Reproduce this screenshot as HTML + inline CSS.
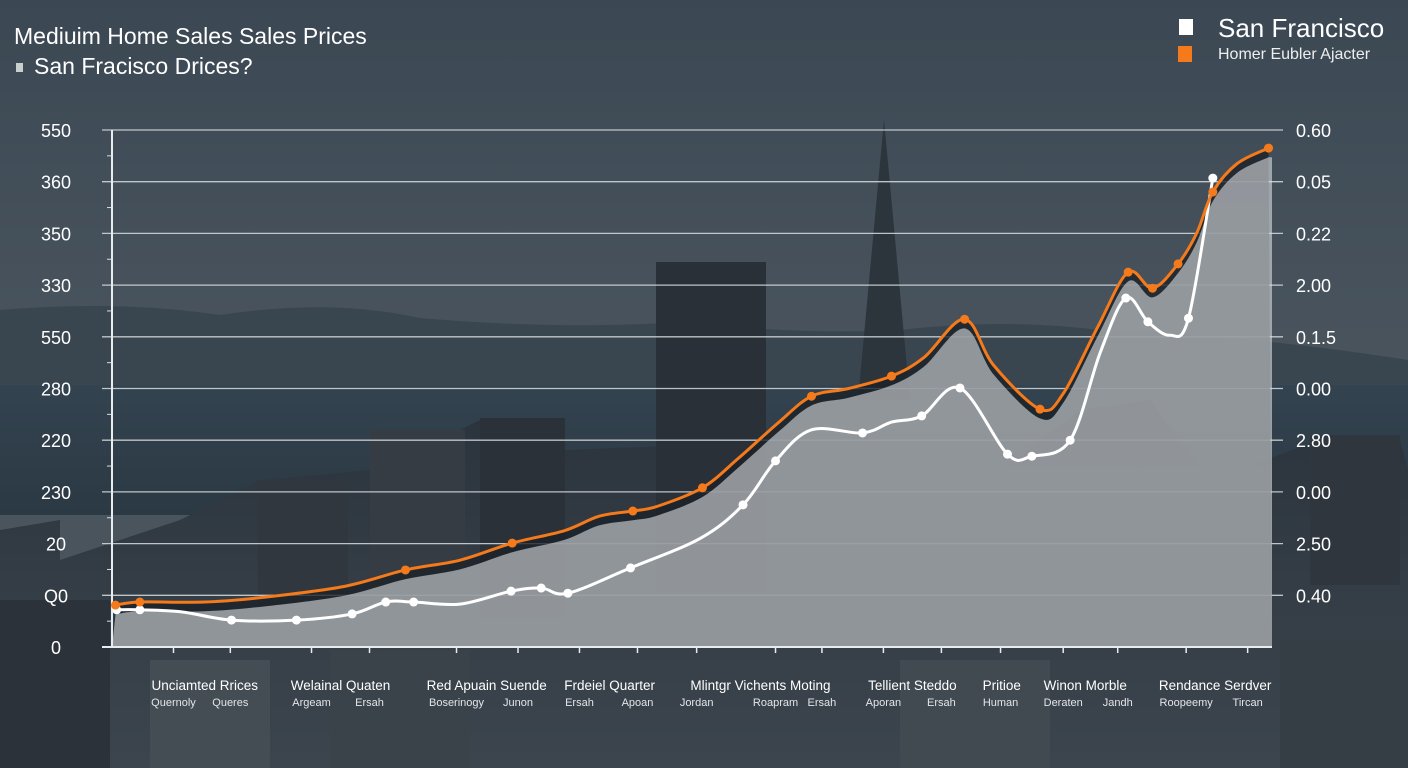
<!DOCTYPE html>
<html><head><meta charset="utf-8">
<style>
html,body{margin:0;padding:0;}
body{width:1408px;height:768px;overflow:hidden;background:#3f4a54;font-family:"Liberation Sans",sans-serif;}
svg{display:block;}
</style></head>
<body>
<svg id="chart" width="1408" height="768" viewBox="0 0 1408 768" xmlns="http://www.w3.org/2000/svg">
<defs>
<linearGradient id="sky" x1="0" y1="0" x2="0" y2="1">
<stop offset="0" stop-color="#3b4853"/><stop offset="0.4" stop-color="#47525c"/><stop offset="0.5" stop-color="#4a545d"/>
</linearGradient>
<linearGradient id="water" x1="0" y1="0" x2="0" y2="1">
<stop offset="0" stop-color="#33434f"/><stop offset="1" stop-color="#2b3944"/>
</linearGradient>
<linearGradient id="city" x1="0" y1="0" x2="0" y2="1">
<stop offset="0" stop-color="#2a333b"/><stop offset="0.5" stop-color="#343d46"/><stop offset="1" stop-color="#3c454e"/>
</linearGradient>
</defs>
<g>
<rect width="1408" height="768" fill="url(#sky)"/>
<path d="M0 310 Q120 300 220 315 Q330 298 420 318 Q560 330 680 322 Q800 335 900 330 Q1000 318 1100 330 Q1250 335 1408 360 L1408 400 L0 400Z" fill="#3a464f"/>
<rect x="0" y="385" width="1408" height="130" fill="url(#water)"/>
<path d="M0 530 L60 520 L60 560 L180 520 L260 480 L370 470 L370 430 L460 430 L480 420 L565 420 L565 450 L690 445 L690 480 L760 470 L840 470 L900 480 L1000 470 L1080 410 L1150 400 L1210 480 L1320 440 L1400 440 L1408 470 L1408 768 L0 768Z" fill="url(#city)"/>
<rect x="656" y="262" width="110" height="330" fill="#2a3037"/>
<polygon points="884,120 858,400 910,400" fill="#2c343c"/>
<rect x="480" y="418" width="85" height="200" fill="#2a3139"/>
<rect x="370" y="430" width="95" height="180" fill="#353c44"/>
<rect x="258" y="480" width="90" height="140" fill="#30373f"/>
<rect x="1310" y="435" width="90" height="150" fill="#2f363e"/>
<rect x="0" y="600" width="110" height="168" fill="#2b3239"/>
<rect x="150" y="660" width="120" height="108" fill="#444c54"/>
<rect x="330" y="650" width="140" height="118" fill="#3a424a"/>
<rect x="900" y="660" width="150" height="108" fill="#414951"/>
<rect x="1280" y="640" width="128" height="128" fill="#353d45"/>
</g>
<g id="plot"></g>
<g fill="#fff">
<text x="14" y="44" font-size="23">Mediuim Home Sales Sales Prices</text>
<rect x="16" y="63" width="7" height="9" fill="#c8d0cc"/>
<text x="34" y="74" font-size="23">San Fracisco Drices?</text>
</g>
<g>
<rect x="1179" y="19" width="14" height="16" fill="#fff"/>
<text x="1218" y="37" font-size="26" fill="#fff">San Francisco</text>
<rect x="1178" y="46" width="14" height="16" fill="#f47a1b"/>
<text x="1218" y="59" font-size="16" fill="#eee">Homer Eubler Ajacter</text>
</g>
</svg>
<script>
const leftTicks=["550","360","350","330","550","280","220","230","20","Q0","0"];
const rightTicks=["0.60","0.05","0.22","2.00","0.1.5","0.00","2.80","0.00","2.50","0.40"];
const xTop=["Unciamted Rrices","Welainal Quaten","Red Apuain Suende","Frdeiel Quarter","Mlintgr Vichents Moting","Tellient Steddo","Pritioe","Winon Morble","Rendance Serdver"];
const xTopT=[8,19.7,32.3,42.9,55.9,69,76.7,83.9,95.1];
const xBot=["Quernoly","Queres","Argeam","Ersah","Boserinogy","Junon","Ersah","Apoan","Jordan","Roapram","Ersah","Aporan","Ersah","Human","Deraten","Jandh","Roopeemy","Tircan"];
const xBotT=[5.3,10.2,17.2,22.2,29.7,35,40.3,45.3,50.4,57.2,61.2,66.5,71.5,76.6,82,86.7,92.6,97.9];
const orangeT=[0.3,2.4,8,13,20,25.3,30,34.5,39,42,44.9,47,50.9,54,57.5,60.3,63.5,67.2,70,73.5,76,80,82,85,87.6,89.7,91.9,93.5,94.9,97,99.7];
const orangeV=[8.1,8.7,8.7,9.6,11.7,14.9,16.8,20.1,22.5,25.3,26.3,27.2,30.8,36.5,43.5,48.5,50,52.4,56,63.4,54.5,46,49,62,72.5,69.4,74.1,80,88,93.5,96.5];
const orangeMarks=[0,1,5,7,10,12,15,17,19,21,24,25,26,28,30];
const whiteT=[0.4,2.4,6,10.3,15.9,20.7,23.6,26,30,34.4,37,39.3,44.7,50.7,54.4,57.2,60.3,64.7,67.2,69.8,73.1,77.2,79.3,82.6,85.2,87.4,89.3,91.2,92.8,94.9];
const whiteV=[7.2,7.2,6.8,5.2,5.2,6.4,8.7,8.7,8.3,10.8,11.4,10.4,15.3,21,27.5,36,42,41.4,43.5,44.7,50.1,37.3,36.9,40,57,67.5,62.9,60.3,63.6,90.7];
const whiteMarks=[0,1,3,4,5,6,7,9,10,11,12,14,15,17,19,20,21,22,23,25,26,28,29];

const X0=112,X1=1272,Y0=647,Y1=130;
const xs=t=>X0+(X1-X0)*t/100;
const ys=v=>Y0-(Y0-Y1)*v/100;
const NS="http://www.w3.org/2000/svg";
const plot=document.getElementById('plot');
function mk(tag,attrs,parent){const e=document.createElementNS(NS,tag);for(const k in attrs)e.setAttribute(k,attrs[k]);(parent||plot).appendChild(e);return e;}
function smooth(pts){let d=`M${pts[0][0]} ${pts[0][1]}`;for(let i=0;i<pts.length-1;i++){const p0=pts[i-1]||pts[i],p1=pts[i],p2=pts[i+1],p3=pts[i+2]||p2;
d+=` C${p1[0]+(p2[0]-p0[0])/6} ${p1[1]+(p2[1]-p0[1])/6} ${p2[0]-(p3[0]-p1[0])/6} ${p2[1]-(p3[1]-p1[1])/6} ${p2[0]} ${p2[1]}`;}return d;}

const step=(Y0-Y1)/10;
for(let i=0;i<11;i++){const y=Y1+i*step;
 if(i<10){const g=mk('line',{x1:X0-10,x2:X1+11,y1:y,y2:y,stroke:'#d8dde0','stroke-width':1.3,opacity:0.85});
 
 
 const m=mk('line',{x1:X0-5,x2:X0,y1:y+step/2,y2:y+step/2,stroke:'#d8dde0','stroke-width':1});
 
 }
 const t=mk('text',{x:56,y:y+7,'font-size':18,fill:'#fff','text-anchor':'middle'});t.textContent=leftTicks[i];
 
 
 if(i<10){const r=mk('text',{x:1296,y:y+7,'font-size':18,fill:'#fff'});r.textContent=rightTicks[i];
 
 }
}
const opts=orangeT.map((t,i)=>[xs(t),ys(orangeV[i])]);
const apts=orangeT.map((t,i)=>[xs(t),ys(orangeV[i]-1.2)+3]);
const shadow=mk('path',{d:smooth(opts)+` L${X1} ${Y0} L${X0} ${Y0}Z`,fill:'#1c2228',opacity:0.8});


const area=mk('path',{d:smooth(apts)+` L${X1} ${apts[apts.length-1][1]} L${X1} ${Y0} L${X0} ${Y0}Z`,fill:'#dcdfe2',opacity:0.6});


const ax=mk('line',{x1:X0,x2:X0,y1:Y1,y2:Y0,stroke:'#e8ecee','stroke-width':2});


const bx=mk('line',{x1:X0-10,x2:X1,y1:Y0,y2:Y0,stroke:'#e8ecee','stroke-width':2});


for(let i=0;i<xBotT.length;i++){const tk=mk('line',{x1:xs(xBotT[i]),x2:xs(xBotT[i]),y1:Y0,y2:Y0+6,stroke:'#e8ecee','stroke-width':1.5});
 
 }
const wpts=whiteT.map((t,i)=>[xs(t),ys(whiteV[i])]);
const wl=mk('path',{d:smooth(wpts),fill:'none',stroke:'#fff','stroke-width':3});


whiteMarks.forEach(i=>{const c=mk('circle',{cx:wpts[i][0],cy:wpts[i][1],r:4.5,fill:'#fff'});
 
 });
const ol=mk('path',{d:smooth(opts),fill:'none',stroke:'#f47a1b','stroke-width':3});


orangeMarks.forEach(i=>{const c=mk('circle',{cx:opts[i][0],cy:opts[i][1],r:4.5,fill:'#f47a1b'});
 
 });
xTop.forEach((s,i)=>{const t=mk('text',{x:xs(xTopT[i]),y:690,'font-size':13.5,fill:'#fff','text-anchor':'middle'});t.textContent=s;
 
 });
xBot.forEach((s,i)=>{const t=mk('text',{x:xs(xBotT[i]),y:706,'font-size':11,fill:'#e4e6e8','text-anchor':'middle'});t.textContent=s;
 
 });
</script>
</body></html>
